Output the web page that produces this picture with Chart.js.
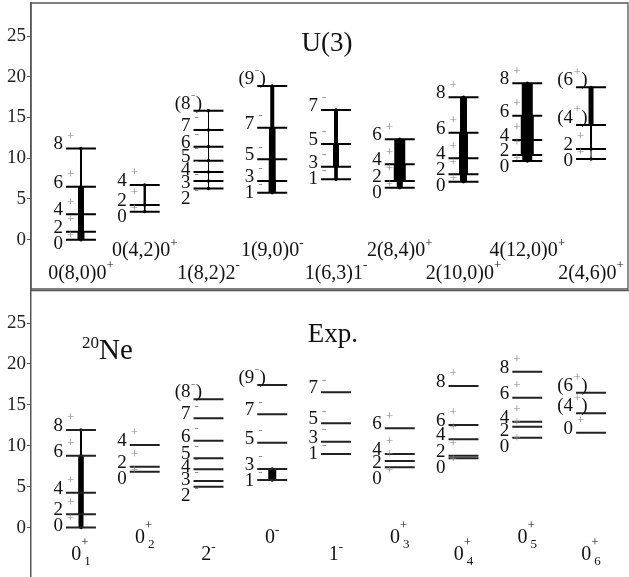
<!DOCTYPE html>
<html>
<head>
<meta charset="utf-8">
<script src="https://cdn.jsdelivr.net/npm/chart.js@4.4.1/dist/chart.umd.min.js"></script>
<style>
  body { margin: 0; background: #fff; }
  canvas { display: block; }
</style>
</head>
<body>
<canvas id="chart-u3" width="629" height="290"></canvas>
<canvas id="chart-exp" width="629" height="287"></canvas>
<script>
// ---- data (energies in MeV) ----
const yTicks = [0, 5, 10, 15, 20, 25];

const u3Bands   = ['0(8,0)0^+', '0(4,2)0^+', '1(8,2)2^-', '1(9,0)0^-', '1(6,3)1^-',
                   '2(8,4)0^+', '2(10,0)0^+', '4(12,0)0^+', '2(4,6)0^+'];
const u3Parity  = ['+', '+', '-', '-', '-', '+', '+', '+', '+'];
const u3Spins   = [
    ['0', '2', '4', '6', '8'],
    ['0', '2', '4'],
    ['2', '3', '4', '5', '6', '7', '(8)'],
    ['1', '3', '5', '7', '(9)'],
    ['1', '3', '5', '7'],
    ['0', '2', '4', '6'],
    ['0', '2', '4', '6', '8'],
    ['0', '2', '4', '6', '8'],
    ['0', '2', '(4)', '(6)'],
];
const u3Energies = [
    [0, 0.98, 3.12, 6.5, 11.2],
    [3.44, 4.26, 6.71],
    [6.28, 7.2, 8.31, 9.7, 11.41, 13.46, 15.83],
    [5.77, 7.2, 9.87, 13.75, 18.86],
    [7.41, 8.96, 11.75, 15.92],
    [6.38, 7.2, 9.25, 12.32],
    [7.12, 8.03, 9.99, 13.13, 17.48],
    [9.66, 10.4, 12.24, 15.22, 19.2],
    [9.9, 11.13, 14.08, 18.7],
];
// B(E2) strengths between successive levels (arb. units), drawn as bar thickness
const u3BE2 = [
    [35, 30, 30, 10],
    [8, 12],
    [5, 5, 5, 5, 5, 5],
    [37, 35, 33, 20],
    [18, 30, 20],
    [30, 60, 55],
    [35, 45, 45, 35],
    [50, 65, 65, 55],
    [5, 10, 25],
];

const expBands   = ['0^+_1', '0^+_2', '2^-', '0^-', '1^-', '0^+_3', '0^+_4', '0^+_5', '0^+_6'];
const expParity  = ['+', '+', '-', '-', '-', '+', '+', '+', '+'];
const expSpins   = [
    ['0', '2', '4', '6', '8'],
    ['0', '2', '4'],
    ['2', '3', '4', '5', '6', '7', '(8)'],
    ['1', '3', '5', '7', '(9)'],
    ['1', '3', '5', '7'],
    ['0', '2', '4', '6'],
    ['0', '2', '4', '6', '8'],
    ['0', '2', '4', '6', '8'],
    ['0', '(4)', '(6)'],
];
const expEnergies = [
    [0, 1.63, 4.25, 8.78, 11.92],
    [6.82, 7.44, 10.09],
    [4.99, 5.69, 7.12, 8.46, 10.62, 13.35, 15.68],
    [5.81, 7.15, 10.37, 13.84, 17.43],
    [8.99, 10.49, 12.74, 16.53],
    [7.36, 8.13, 8.99, 12.13],
    [8.46, 8.78, 10.79, 12.54, 17.3],
    [10.98, 12.33, 12.94, 15.87, 19.05],
    [11.6, 13.97, 16.49],
];
const expBE2 = [
    [25, 28, 28, 10],
    [],
    [],
    [40],
    [],
    [],
    [],
    [],
    [],
];

// ---- drawing helpers ----
const SERIF = '"Liberation Serif", "Times New Roman", serif';
const X_MIN = 0.216, X_MAX = 9.58;
const Y_MIN = -6.05, Y_MAX = 29.05;
const HALF  = 0.235;   // half width of a level line, x units
const BE2_PX = 0.2;    // px of bar per B(E2) unit

function levelPoints(energies) {
    const pts = [];
    energies.forEach((band, i) => {
        const c = i + 1;
        for (const e of band) pts.push({ x: c - HALF, y: e }, { x: c + HALF, y: e }, { x: c, y: null });
    });
    return pts;
}

function richParts(str) {
    const parts = [];
    for (let i = 0; i < str.length; i++) {
        const ch = str[i];
        if ((ch === '^' || ch === '_') && i + 1 < str.length) {
            parts.push({ t: str[i + 1], k: ch === '^' ? 'sup' : 'sub' });
            i++;
        } else {
            const last = parts[parts.length - 1];
            if (last && last.k === 'n') last.t += ch;
            else parts.push({ t: ch, k: 'n' });
        }
    }
    return parts;
}

function drawRich(ctx, str, xc, yc, fs) {
    const parts   = richParts(str);
    const small   = Math.round(fs * 0.66);
    const stacked = parts.some(p => p.k === 'sub');
    let x = 0, supX = null;
    const placed = [];
    for (const p of parts) {
        ctx.font = (p.k === 'n' ? fs : small) + 'px ' + SERIF;
        const w = ctx.measureText(p.t).width;
        if (p.k === 'sub' && supX !== null) {
            placed.push({ ...p, x: supX + 3 });
            x = Math.max(x, supX + 3 + w);
        } else {
            placed.push({ ...p, x });
            supX = p.k === 'sup' ? x : null;
            x += w;
        }
    }
    const x0 = xc - x / 2;
    ctx.textAlign = 'left';
    ctx.textBaseline = 'middle';
    ctx.fillStyle = '#111';
    for (const p of placed) {
        ctx.font = (p.k === 'n' ? fs : small) + 'px ' + SERIF;
        const dy = p.k === 'sup' ? -(stacked ? 0.6 : 0.36) * fs : p.k === 'sub' ? 0.32 * fs : 0;
        ctx.fillText(p.t, x0 + p.x, yc + dy);
    }
}

function drawSpin(ctx, lab, par, xl, yc) {
    const paren = lab.startsWith('(');
    const num   = lab.replace(/[()]/g, '');
    const xr    = xl - 3;
    ctx.textBaseline = 'middle';
    ctx.font = '19px ' + SERIF; ctx.fillStyle = '#111'; ctx.textAlign = 'right';
    ctx.fillText(paren ? '(' + num : num, xr, yc);
    ctx.font = '13px ' + SERIF; ctx.fillStyle = '#888'; ctx.textAlign = 'left';
    if (paren) {
        ctx.fillText(par, xr + 0.5, yc - 8);
        const pw = ctx.measureText(par).width;
        ctx.font = '19px ' + SERIF; ctx.fillStyle = '#111';
        ctx.fillText(')', xr + pw + 1, yc);
    } else {
        ctx.fillText(par, xl + 1, yc - 8);
    }
}

function schemePlugin(p) {
    return {
        id: 'scheme',
        beforeDatasetsDraw(chart) {
            const { ctx, scales: { x, y } } = chart;
            ctx.save();
            ctx.fillStyle = '#000';
            p.energies.forEach((band, i) => {
                const xc = x.getPixelForValue(i + 1);
                const b  = p.be2[i] || [];
                b.forEach((v, k) => {
                    if (!v) return;
                    const w  = Math.max(1, v * BE2_PX);
                    const y1 = y.getPixelForValue(band[k]);
                    const y2 = y.getPixelForValue(band[k + 1]);
                    ctx.fillRect(xc - w / 2, y2, w, y1 - y2);
                });
                if (b.some(v => v)) {
                    band.forEach((e, k) => {
                        if (!b[k] && !b[k - 1]) return;
                        ctx.beginPath();
                        ctx.arc(xc, y.getPixelForValue(e), 1.7, 0, Math.PI * 2);
                        ctx.fill();
                    });
                }
            });
            ctx.restore();
        },
        afterDraw(chart) {
            const { ctx, chartArea: a, scales: { x, y } } = chart;
            ctx.save();
            // spin labels, pushed apart when levels crowd
            p.energies.forEach((band, i) => {
                const xl = x.getPixelForValue(i + 1 - HALF);
                const idx = band.map((e, k) => k).sort((m, n) => band[n] - band[m]);
                let prev = null;
                idx.forEach((k, j) => {
                    const lab = p.spins[i][k];
                    let yc = y.getPixelForValue(band[k]) - (lab.startsWith('(') ? 7 : 4);
                    if (prev !== null) yc = Math.max(yc, prev + (j === idx.length - 1 ? 16 : 13));
                    prev = yc;
                    drawSpin(ctx, lab, p.parity[i], xl, yc);
                });
                const row = p.nameY[i % 2];
                drawRich(ctx, p.names[i], x.getPixelForValue(i + 1), y.getPixelForValue(row), 20);
            });
            p.titles(ctx, x, y);
            // frame
            ctx.strokeStyle = '#555';
            ctx.lineWidth = 1.3;
            ctx.beginPath();
            if (p.box) {
                ctx.rect(a.left, a.top, a.right - a.left, a.bottom - a.top);
            } else {
                ctx.moveTo(a.left, a.top + 0.6);
                ctx.lineTo(a.right + 1, a.top + 0.6);
            }
            ctx.stroke();
            ctx.restore();
        },
    };
}

function makeChart(id, p, padding) {
    return new Chart(document.getElementById(id), {
        type: 'line',
        data: {
            datasets: [{
                data: levelPoints(p.energies),
                borderColor: p.lineColor,
                borderWidth: 2,
                pointRadius: 0,
                spanGaps: false,
                tension: 0,
            }],
        },
        options: {
            responsive: false,
            animation: false,
            devicePixelRatio: 1,
            layout: { padding },
            plugins: { legend: { display: false }, tooltip: { enabled: false } },
            scales: {
                x: { type: 'linear', min: X_MIN, max: X_MAX, display: false },
                y: {
                    type: 'linear', min: Y_MIN, max: Y_MAX,
                    afterBuildTicks: s => { s.ticks = yTicks.map(v => ({ value: v })); },
                    afterFit: s => { s.width = 31; s.paddingTop = 0; s.paddingBottom = 0; },
                    grid: { drawOnChartArea: false, drawTicks: true, tickLength: 4, color: '#555' },
                    border: { display: true, color: '#555', width: 1.5 },
                    ticks: { font: { family: SERIF, size: 19 }, color: '#222', padding: 1 },
                },
            },
        },
        plugins: [schemePlugin(p)],
    });
}

makeChart('chart-u3', {
    energies: u3Energies, spins: u3Spins, parity: u3Parity, be2: u3BE2, names: u3Bands,
    nameY: [-4.12, -1.35], box: true, lineColor: '#000',
    titles(ctx, x, y) {
        ctx.font = '27px ' + SERIF; ctx.fillStyle = '#111';
        ctx.textAlign = 'center'; ctx.textBaseline = 'middle';
        ctx.fillText('U(3)', x.getPixelForValue(4.86), y.getPixelForValue(24.0));
    },
}, { left: 0, top: 3, right: 1, bottom: 1 });

makeChart('chart-exp', {
    energies: expEnergies, spins: expSpins, parity: expParity, be2: expBE2, names: expBands,
    nameY: [-3.36, -1.28], box: false, lineColor: '#222',
    titles(ctx, x, y) {
        ctx.fillStyle = '#111'; ctx.textBaseline = 'middle';
        ctx.font = '27px ' + SERIF; ctx.textAlign = 'center';
        ctx.fillText('Exp.', x.getPixelForValue(4.95), y.getPixelForValue(23.56));
        const xl = x.getPixelForValue(1.016), yc = y.getPixelForValue(21.5);
        ctx.textAlign = 'left';
        ctx.font = '17px ' + SERIF;
        ctx.fillText('20', xl, yc - 8);
        const w = ctx.measureText('20').width;
        ctx.font = '29px ' + SERIF;
        ctx.fillText('Ne', xl + w, yc);
    },
}, { left: 0, top: 0, right: 1, bottom: 0 });
</script>
</body>
</html>
